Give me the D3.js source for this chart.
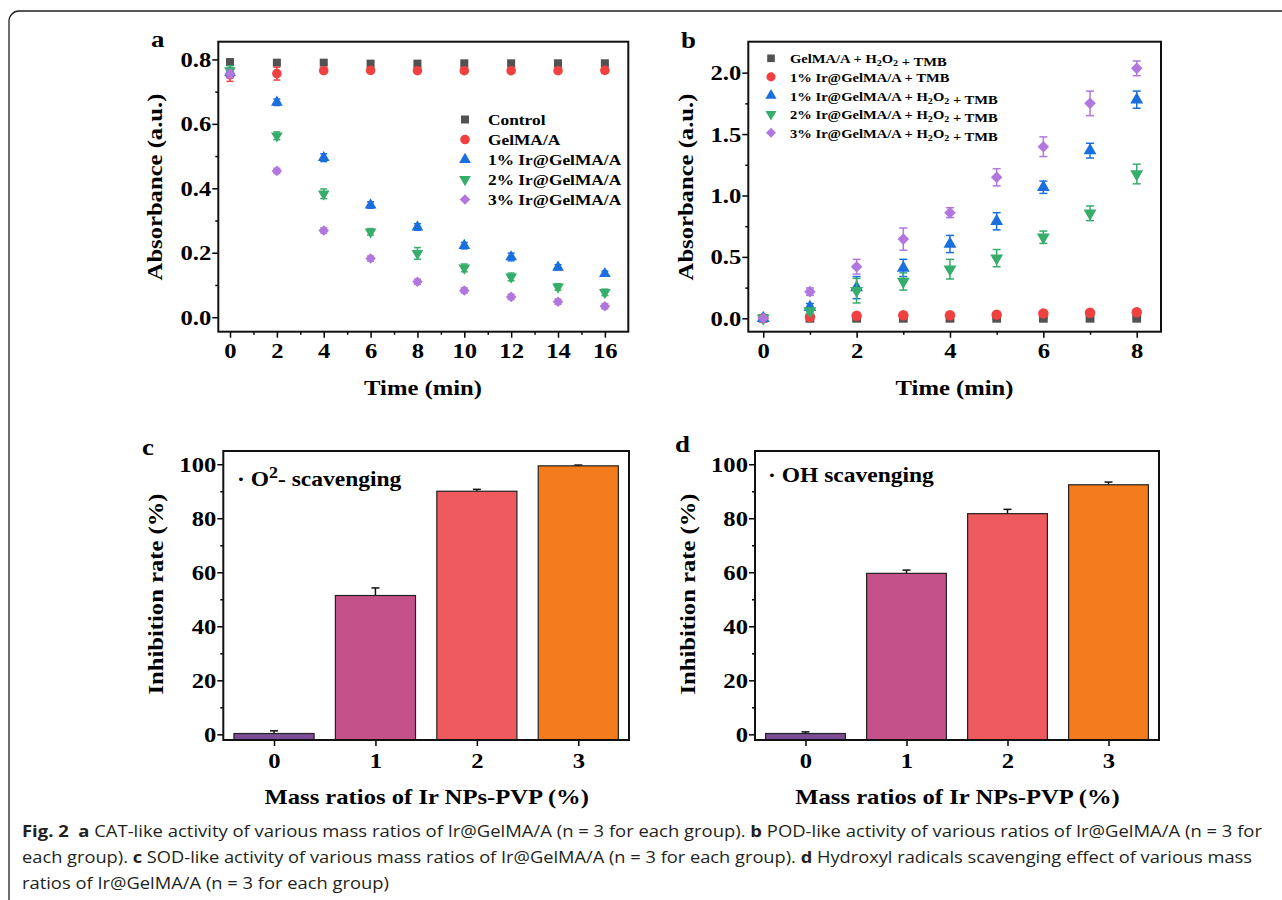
<!DOCTYPE html>
<html><head><meta charset="utf-8">
<script src="https://cdn.jsdelivr.net/npm/d3@7"></script>
<style>body{margin:0;background:#fff} svg{display:block}</style>
</head><body>
<svg id="c" width="1282" height="900"></svg>
<script>
// ---------- DATA ----------
// Panel a (CAT-like)
const timeA = [0, 2, 4, 6, 8, 10, 12, 14, 16];
const namesA = ["Control", "GelMA/A", "1% Ir@GelMA/A", "2% Ir@GelMA/A", "3% Ir@GelMA/A"];
const controlA = [0.792, 0.790, 0.790, 0.787, 0.787, 0.788, 0.788, 0.788, 0.788];
const gelmaA   = [0.752, 0.756, 0.765, 0.766, 0.765, 0.765, 0.765, 0.765, 0.766];
const ir1A     = [0.760, 0.667, 0.495, 0.348, 0.280, 0.222, 0.187, 0.155, 0.135];
const ir2A     = [0.765, 0.563, 0.383, 0.265, 0.198, 0.153, 0.125, 0.094, 0.077];
const ir3A     = [0.755, 0.454, 0.269, 0.182, 0.110, 0.083, 0.063, 0.048, 0.034];
const controlAErr = [0.006, 0.005, 0.005, 0.005, 0.005, 0.005, 0.005, 0.005, 0.005];
const gelmaAErr   = [0.020, 0.020, 0.008, 0.008, 0.008, 0.008, 0.008, 0.008, 0.008];
const ir1AErr     = [0.012, 0.010, 0.012, 0.010, 0.010, 0.010, 0.012, 0.008, 0.008];
const ir2AErr     = [0.015, 0.012, 0.015, 0.010, 0.018, 0.012, 0.012, 0.010, 0.010];
const ir3AErr     = [0.012, 0.008, 0.008, 0.008, 0.008, 0.008, 0.008, 0.008, 0.008];
const xTicksA = [0, 2, 4, 6, 8, 10, 12, 14, 16];
const yTicksA = [0.0, 0.2, 0.4, 0.6, 0.8];

// Panel b (POD-like)
const timeB = [0, 1, 2, 3, 4, 5, 6, 7, 8];
const namesB = ["GelMA/A + H2O2 + TMB", "1% Ir@GelMA/A + TMB", "1% Ir@GelMA/A + H2O2 + TMB", "2% Ir@GelMA/A + H2O2 + TMB", "3% Ir@GelMA/A + H2O2 + TMB"];
const gelmaB = [0, 0, 0, 0, 0, 0, 0, 0, 0];
const ir1TmbB = [0, 0.010, 0.020, 0.025, 0.025, 0.030, 0.040, 0.045, 0.050];
const ir1B = [0, 0.090, 0.250, 0.410, 0.605, 0.790, 1.067, 1.365, 1.780];
const ir2B = [0, 0.060, 0.225, 0.300, 0.400, 0.490, 0.660, 0.855, 1.175];
const ir3B = [0, 0.217, 0.420, 0.645, 0.860, 1.148, 1.397, 1.750, 2.035];
const gelmaBErr = [0.005, 0.005, 0.005, 0.005, 0.005, 0.005, 0.005, 0.005, 0.005];
const ir1TmbBErr = [0.005, 0.008, 0.008, 0.008, 0.008, 0.008, 0.010, 0.010, 0.010];
const ir1BErr = [0.01, 0.03, 0.09, 0.07, 0.07, 0.07, 0.05, 0.06, 0.07];
const ir2BErr = [0.01, 0.02, 0.10, 0.07, 0.08, 0.07, 0.05, 0.06, 0.08];
const ir3BErr = [0.01, 0.03, 0.06, 0.09, 0.04, 0.07, 0.08, 0.10, 0.06];
const xTicksB = [0, 2, 4, 6, 8];
const yTicksB = [0.0, 0.5, 1.0, 1.5, 2.0];

// Panels c, d (bars)
const ratios = ["0", "1", "2", "3"];
const sodValues = [0.3, 51.4, 90.0, 99.4];
const sodErr = [1.0, 2.8, 0.7, 0.3];
const ohValues = [0.3, 59.6, 81.7, 92.4];
const ohErr = [0.6, 1.2, 1.6, 1.0];
const yTicksCD = [0, 20, 40, 60, 80, 100];

// colours
const seriesColors = ["#525252", "#F14040", "#1A6FDF", "#37AD6B", "#B177DE"];
const barColors = ["#7D4C97", "#C5518A", "#EE5A5D", "#F57C1C"];

// ---------- DRAWING ----------
const svg = d3.select("#c");
const SX = 1.12;
const serif = "'Liberation Serif','Times New Roman',serif";

function stext(g, x, y, str, size, anchor, rot) {
  return g.append("text")
    .attr("transform", `translate(${x},${y})${rot ? " rotate(-90)" : ""} scale(${SX},1)`)
    .attr("text-anchor", anchor || "start")
    .attr("font-family", serif).attr("font-weight", "bold")
    .attr("font-size", size).attr("fill", "#000")
    .text(str);
}

function styleAxis(sel) {
  sel.select(".domain").remove();
  sel.selectAll("line").attr("stroke", "#000").attr("stroke-width", 1.5);
}

function axes(g, box, x, y, o) {
  const gx = g.append("g").attr("transform", `translate(0,${box.y1})`);
  gx.call(d3.axisBottom(x).tickValues(o.xMaj).tickSize(6).tickPadding(o.xPad).tickFormat(o.xFmt));
  styleAxis(gx);
  gx.selectAll("text").attr("font-family", serif).attr("font-weight", "bold")
    .attr("font-size", 22).attr("fill", "#000").attr("transform", `scale(${SX},1)`);
  if (o.xMin.length) {
    const gxm = g.append("g").attr("transform", `translate(0,${box.y1})`);
    gxm.call(d3.axisBottom(x).tickValues(o.xMin).tickSize(3).tickFormat(""));
    styleAxis(gxm);
  }
  const gy = g.append("g").attr("transform", `translate(${box.x0},0)`);
  gy.call(d3.axisLeft(y).tickValues(o.yMaj).tickSize(6).tickFormat(o.yFmt));
  styleAxis(gy);
  gy.selectAll("text").attr("x", 0).attr("font-family", serif).attr("font-weight", "bold")
    .attr("font-size", 22).attr("fill", "#000").attr("transform", `translate(-7,0) scale(${SX},1)`);
  const gym = g.append("g").attr("transform", `translate(${box.x0},0)`);
  gym.call(d3.axisLeft(y).tickValues(o.yMin).tickSize(3).tickFormat(""));
  styleAxis(gym);
}

function frame(g, box) {
  g.append("rect").attr("x", box.x0).attr("y", box.y0)
    .attr("width", box.x1 - box.x0).attr("height", box.y1 - box.y0)
    .attr("fill", "none").attr("stroke", "#111").attr("stroke-width", 2);
}

const shapeGen = [
  { t: d3.symbolSquare, s: 64, r: 0 },
  { t: d3.symbolCircle, s: 72, r: 0 },
  { t: d3.symbolTriangle, s: 60, r: 0 },
  { t: d3.symbolTriangle, s: 60, r: 180 },
  { t: d3.symbolSquare, s: 56, r: 45 }
];
function marker(g, cx, cy, i, color, scale) {
  const sh = shapeGen[i];
  g.append("path").attr("d", d3.symbol().type(sh.t).size(sh.s * (scale || 1))())
    .attr("transform", `translate(${cx},${cy}) rotate(${sh.r})`)
    .attr("fill", color);
}
function errBar(g, cx, y, v, e, color, cap) {
  g.append("line").attr("x1", cx).attr("x2", cx).attr("y1", y(v - e)).attr("y2", y(v + e))
    .attr("stroke", color).attr("stroke-width", 1.5);
  [v - e, v + e].forEach(val => {
    g.append("line").attr("x1", cx - cap).attr("x2", cx + cap).attr("y1", y(val)).attr("y2", y(val))
      .attr("stroke", color).attr("stroke-width", 1.5);
  });
}

// card border
svg.append("path").attr("d", "M9,920 L9,21 A10,10 0 0 1 19,11 L1295,11")
  .attr("fill", "none").attr("stroke", "#222").attr("stroke-width", 1.3);

// ---- Panel a ----
{
  const g = svg.append("g");
  const box = { x0: 218.3, x1: 628.3, y0: 41.7, y1: 331.7 };
  const x = d3.scaleLinear().domain([-0.5, 17]).range([box.x0, box.x1]);
  const y = d3.scaleLinear().domain([-0.045, 0.855]).range([box.y1, box.y0]);
  const data = [controlA, gelmaA, ir1A, ir2A, ir3A];
  const errs = [controlAErr, gelmaAErr, ir1AErr, ir2AErr, ir3AErr];
  data.forEach((s, i) => {
    s.forEach((v, j) => errBar(g, x(timeA[j]), y, v, errs[i][j], seriesColors[i], 3.5));
    s.forEach((v, j) => marker(g, x(timeA[j]), y(v), i, seriesColors[i]));
  });
  axes(g, box, x, y, {
    xMaj: xTicksA, xMin: [1, 3, 5, 7, 9, 11, 13, 15], yMaj: yTicksA, yMin: [0.1, 0.3, 0.5, 0.7],
    xFmt: d3.format("d"), yFmt: d3.format(".1f"), xPad: 5
  });
  frame(g, box);
  // legend
  namesA.forEach((n, i) => {
    const cy = 119.5 + i * 20;
    marker(g, 465, cy, i, seriesColors[i]);
    stext(g, 488, cy + 5.5, n, 15.5, "start");
  });
  stext(g, 423, 395, "Time (min)", 22, "middle");
  stext(g, 162, 187, "Absorbance (a.u.)", 22, "middle", true);
  stext(g, 151, 47, "a", 24, "start");
}

// ---- Panel b ----
{
  const g = svg.append("g");
  const box = { x0: 748.3, x1: 1161, y0: 41.7, y1: 331.7 };
  const x = d3.scaleLinear().domain([-0.32, 8.52]).range([box.x0, box.x1]);
  const y = d3.scaleLinear().domain([-0.109, 2.252]).range([box.y1, box.y0]);
  const data = [gelmaB, ir1TmbB, ir1B, ir2B, ir3B];
  const errs = [gelmaBErr, ir1TmbBErr, ir1BErr, ir2BErr, ir3BErr];
  data.forEach((s, i) => {
    s.forEach((v, j) => errBar(g, x(timeB[j]), y, v, errs[i][j], seriesColors[i], 4));
    s.forEach((v, j) => marker(g, x(timeB[j]), y(v), i, seriesColors[i], 1.2));
  });
  axes(g, box, x, y, {
    xMaj: xTicksB, xMin: [1, 3, 5, 7], yMaj: yTicksB, yMin: [0.25, 0.75, 1.25, 1.75],
    xFmt: d3.format("d"), yFmt: d3.format(".1f"), xPad: 5
  });
  frame(g, box);
  // legend with subscripts
  namesB.forEach((n, i) => {
    const cy = 58.3 + i * 18.6;
    marker(g, 771, cy, i, seriesColors[i], 0.9);
    const t = g.append("text")
      .attr("transform", `translate(790,${cy + 5}) scale(${SX},1)`)
      .attr("font-family", serif).attr("font-weight", "bold").attr("font-size", 13).attr("fill", "#000");
    const parts = n.split(/(H2O2)/);
    parts.forEach(p => {
      if (p === "H2O2") {
        t.append("tspan").text("H");
        t.append("tspan").attr("font-size", 9).attr("dy", 3).text("2");
        t.append("tspan").attr("dy", -3).text("O");
        t.append("tspan").attr("font-size", 9).attr("dy", 3).text("2");
        t.append("tspan").attr("dy", -3).text("");
      } else {
        t.append("tspan").text(p);
      }
    });
  });
  stext(g, 954.5, 395, "Time (min)", 22, "middle");
  stext(g, 693, 187, "Absorbance (a.u.)", 22, "middle", true);
  stext(g, 681, 48, "b", 24, "start");
}

// ---- Panels c & d ----
function barPanel(box, values, errs, letter, lx, ly, titleX, ytX, annot) {
  const g = svg.append("g");
  const x = d3.scaleLinear().domain([-0.5, 3.5]).range([box.x0, box.x1]);
  const y = d3.scaleLinear().domain([-2.1, 104.9]).range([box.y1, box.y0]);
  const bw = 0.79;
  values.forEach((v, i) => {
    g.append("line").attr("x1", x(i)).attr("x2", x(i)).attr("y1", y(v)).attr("y2", y(v + errs[i]))
      .attr("stroke", "#111").attr("stroke-width", 1.5);
    g.append("line").attr("x1", x(i) - 4).attr("x2", x(i) + 4).attr("y1", y(v + errs[i])).attr("y2", y(v + errs[i]))
      .attr("stroke", "#111").attr("stroke-width", 1.5);
    // bars start at the bottom of the axis (Origin style)
    g.append("rect").attr("x", x(i - bw / 2)).attr("width", x(i + bw / 2) - x(i - bw / 2))
      .attr("y", y(v)).attr("height", y(y.domain()[0]) - y(v))
      .attr("fill", barColors[i]).attr("stroke", "#222").attr("stroke-width", 1.2);
  });
  axes(g, box, x, y, {
    xMaj: [0, 1, 2, 3], xMin: [], yMaj: yTicksCD, yMin: [10, 30, 50, 70, 90],
    xFmt: (d) => ratios[d], yFmt: d3.format("d"), xPad: 6
  });
  frame(g, box);
  stext(g, titleX, 804, "Mass ratios of Ir NPs-PVP (%)", 22, "middle");
  stext(g, ytX, 594, "Inhibition rate (%)", 22, "middle", true);
  stext(g, lx, ly, letter, 24, "start");
  annot(g);
}

barPanel({ x0: 223.3, x1: 629, y0: 451, y1: 740 }, sodValues, sodErr, "c", 142, 455, 426.7, 163,
  (g) => {
    const t = g.append("text").attr("transform", `translate(237,486) scale(${SX},1)`)
      .attr("font-family", serif).attr("font-weight", "bold").attr("font-size", 21).attr("fill", "#000");
    t.append("tspan").text("· O");
    t.append("tspan").attr("font-size", 16).attr("dy", -8).text("2");
    t.append("tspan").attr("dy", 8).text("- scavenging");
  });

barPanel({ x0: 755, x1: 1159, y0: 451, y1: 740 }, ohValues, ohErr, "d", 675, 452, 957.5, 695,
  (g) => {
    g.append("text").attr("transform", `translate(768,482) scale(${SX},1)`)
      .attr("font-family", serif).attr("font-weight", "bold").attr("font-size", 21).attr("fill", "#000")
      .text("· OH scavenging");
  });

// ---- Caption ----
const capLines = [
  { y: 837, len: 1240, parts: [["Fig. 2", true], ["  ", false], ["a", true], [" CAT-like activity of various mass ratios of Ir@GelMA/A (n = 3 for each group). ", false], ["b", true], [" POD-like activity of various ratios of Ir@GelMA/A (n = 3 for", false]] },
  { y: 863, len: 1230, parts: [["each group). ", false], ["c", true], [" SOD-like activity of various mass ratios of Ir@GelMA/A (n = 3 for each group). ", false], ["d", true], [" Hydroxyl radicals scavenging effect of various mass", false]] },
  { y: 889, len: 367, parts: [["ratios of Ir@GelMA/A (n = 3 for each group)", false]] }
];
capLines.forEach(l => {
  const t = svg.append("text").attr("x", 22).attr("y", l.y)
    .attr("font-family", "'Open Sans','Noto Sans',sans-serif").attr("font-size", 16.5).attr("fill", "#231f20")
    .attr("textLength", l.len).attr("lengthAdjust", "spacingAndGlyphs")
    .attr("xml:space", "preserve").style("white-space", "pre");
  l.parts.forEach(p => t.append("tspan").attr("font-weight", p[1] ? "bold" : "normal").text(p[0]));
});
</script>
</body></html>
